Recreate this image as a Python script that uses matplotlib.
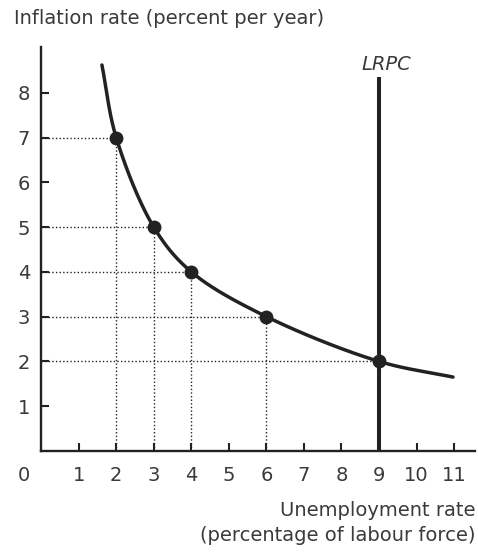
import numpy as np
import matplotlib.pyplot as plt
import matplotlib as mpl

mpl.rcParams["font.family"] = "DejaVu Sans"

# Phillips curve points (unemployment %, inflation %)
unemployment = [2, 3, 4, 6, 9]
inflation = [7, 5, 4, 3, 2]

# curve shape as drawn, including its two loose ends
curve_x = [1.62, 2, 3, 4, 6, 9, 10.97]
curve_y = [8.62, 7, 5, 4, 3, 2, 1.65]

lrpc_x = 9
lrpc_top = 8.35

x_ticks = list(range(1, 12))
y_ticks = list(range(1, 9))

INK = "#222222"
TXT = "#3a3a3a"
FS = 14

# rough pixels per data unit, so the spline is built in screen-like space
SX, SY = 37.6, 44.8


def smooth_curve(xs, ys, per_seg=40, alpha=0.5):
    """Centripetal Catmull-Rom spline through the points."""
    P = np.column_stack([np.asarray(xs) * SX, np.asarray(ys) * SY])
    P = np.vstack([2 * P[0] - P[1], P, 2 * P[-1] - P[-2]])
    out = []
    for i in range(1, len(P) - 2):
        p0, p1, p2, p3 = P[i - 1], P[i], P[i + 1], P[i + 2]
        t0 = 0.0
        t1 = t0 + np.linalg.norm(p1 - p0) ** alpha
        t2 = t1 + np.linalg.norm(p2 - p1) ** alpha
        t3 = t2 + np.linalg.norm(p3 - p2) ** alpha
        t = np.linspace(t1, t2, per_seg)[:, None]
        a1 = (t1 - t) / (t1 - t0) * p0 + (t - t0) / (t1 - t0) * p1
        a2 = (t2 - t) / (t2 - t1) * p1 + (t - t1) / (t2 - t1) * p2
        a3 = (t3 - t) / (t3 - t2) * p2 + (t - t2) / (t3 - t2) * p3
        b1 = (t2 - t) / (t2 - t0) * a1 + (t - t0) / (t2 - t0) * a2
        b2 = (t3 - t) / (t3 - t1) * a2 + (t - t1) / (t3 - t1) * a3
        c = (t2 - t) / (t2 - t1) * b1 + (t - t1) / (t2 - t1) * b2
        out.append(c)
    out = np.vstack(out)
    return out[:, 0] / SX, out[:, 1] / SY


fig = plt.figure(figsize=(4.78, 5.54), dpi=100)
ax = fig.add_axes([0.086, 0.186, 0.908, 0.729])

ax.set_xlim(0, 11.56)
ax.set_ylim(0, 9.02)

# dotted guide lines
for u, p in zip(unemployment, inflation):
    ax.plot([0, u], [p, p], color=INK, lw=1.0, ls=(0, (1, 1.6)))
    if u != lrpc_x:
        ax.plot([u, u], [0, p], color=INK, lw=1.0, ls=(0, (1, 1.6)))

# LRPC
ax.plot([lrpc_x, lrpc_x], [0, lrpc_top], color=INK, lw=2.9, solid_capstyle="butt")
ax.text(9.2, 8.62, "LRPC", style="italic", fontsize=FS, color=TXT,
        ha="center", va="center")

# short-run Phillips curve
sx, sy = smooth_curve(curve_x, curve_y)
ax.plot(sx, sy, color=INK, lw=2.5, solid_capstyle="round")
ax.plot(unemployment, inflation, "o", color=INK, ms=9, zorder=5)

for side in ["top", "right"]:
    ax.spines[side].set_visible(False)
for side in ["left", "bottom"]:
    ax.spines[side].set_linewidth(1.7)
    ax.spines[side].set_color(INK)

ax.set_xticks(x_ticks)
ax.set_yticks(y_ticks)
ax.tick_params(direction="in", length=6, width=1.5, color=INK,
               labelsize=FS, labelcolor=TXT)
ax.tick_params(axis="x", pad=11)
ax.tick_params(axis="y", pad=8)
ax.text(-0.47, -0.54, "0", fontsize=FS, color=TXT, ha="center", va="center")

fig.text(0.029, 0.9675, "Inflation rate (percent per year)", fontsize=FS,
         color=TXT, ha="left", va="center")
fig.text(0.994, 0.0794, "Unemployment rate", fontsize=FS, color=TXT,
         ha="right", va="center")
fig.text(0.994, 0.0325, "(percentage of labour force)", fontsize=FS,
         color=TXT, ha="right", va="center")

fig.savefig("out.png", dpi=100)
